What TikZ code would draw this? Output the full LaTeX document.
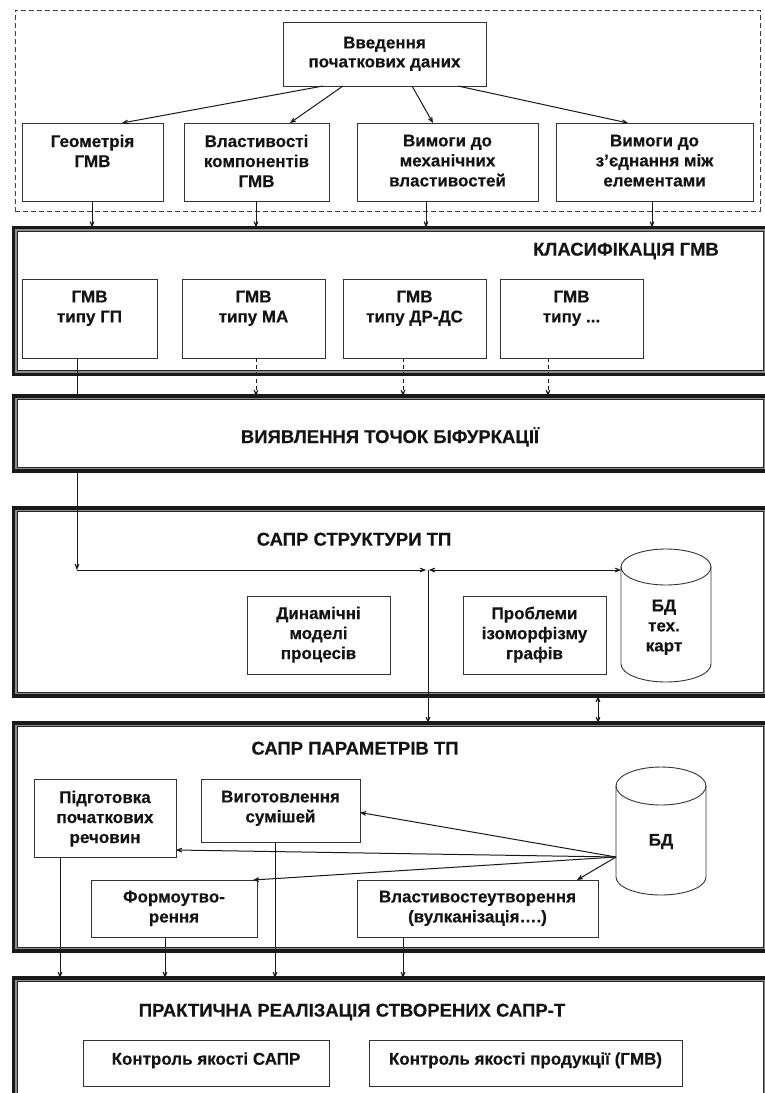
\documentclass[tikz,border=0pt]{standalone}
\usepackage{fontspec}
\setmainfont{Liberation Sans}[BoldFeatures={FakeBold=0.3}]
\usetikzlibrary{arrows.meta}
\newcommand\myframeinner[1]{%
  \draw[frmg] ([shift={(2.5pt,-2.5pt)}]#1.north west) rectangle ([shift={(-2.5pt,2.5pt)}]#1.south east);
  \draw[frmi] ([shift={(3.9pt,-3.9pt)}]#1.north west) rectangle ([shift={(-3.9pt,3.9pt)}]#1.south east);}
\begin{document}
\begin{tikzpicture}[x=1pt,y=-1pt,
  box/.style={draw=black!80, line width=0.9pt, inner sep=0pt, outer sep=0pt, anchor=north west},
  basetxt/.style={align=center, inner sep=0pt, anchor=north, text=black!92, execute at begin node=\strut},
  txt/.style={basetxt, font=\fontsize{17}{20}\selectfont\bfseries, yshift=-2.5pt},
  ttl/.style={basetxt, font=\fontsize{18.5}{22}\selectfont\bfseries},
  frm/.style={draw=black!90, line width=3.5pt, inner sep=0pt, outer sep=0pt, anchor=north west},
  frmg/.style={draw=black!45, line width=1.3pt},
  frmi/.style={draw=black!85, line width=0.9pt},
  ln/.style={draw=black!90, line width=1pt},
  tip/.tip={Stealth[length=11pt,width=9pt,inset=7.5pt]},
  arr/.style={ln, -tip},
  darr/.style={arr, dash pattern=on 4pt off 3pt},
  dbl/.style={ln, tip-tip},
  cyl/.style={draw=black!80, line width=0.9pt},
]
\useasboundingbox (0,0) rectangle (765,1093);
\clip (0,0) rectangle (765,1093);
\fill[white] (0,0) rectangle (765,1093);

% ---------- input block ----------
\node[draw=black!75, line width=0.8pt, dash pattern=on 5pt off 3pt, inner sep=0pt, outer sep=0pt, anchor=north west,
      minimum width=745pt, minimum height=201pt] (inp) at (15,10) {};
\node[box, minimum width=203pt, minimum height=64pt] (top) at (283,22) {};
\node[txt, font=\fontsize{17}{19}\selectfont\bfseries] at (384.5,34) {Введення\\початкових даних};

\node[box, minimum width=141pt, minimum height=78pt] (g1) at (22,123) {};
\node[txt] at (92.5,132) {Геометрія\\ГМВ};
\node[box, minimum width=145pt, minimum height=78pt] (g2) at (184,123) {};
\node[txt] at (256.5,132) {Властивості\\компонентів\\ГМВ};
\node[box, minimum width=181pt, minimum height=78pt] (g3) at (357,123) {};
\node[txt] at (447.5,132) {Вимоги до\\механічних\\властивостей};
\node[box, minimum width=197pt, minimum height=78pt] (g4) at (556,123) {};
\node[txt] at (654.5,132) {Вимоги до\\з’єднання між\\елементами};

% ---------- frames ----------
\node[frm, minimum width=754pt, minimum height=147pt] (cls) at (13.5,227.5) {};
\myframeinner{cls}
\node[frm, minimum width=754pt, minimum height=75pt] (bif) at (13.5,396) {};
\myframeinner{bif}
\node[frm, minimum width=754pt, minimum height=188pt] (sst) at (13.5,508) {};
\myframeinner{sst}
\node[frm, minimum width=754pt, minimum height=228pt] (spar) at (13.5,723) {};
\myframeinner{spar}
\node[frm, minimum width=754pt, minimum height=142pt] (prac) at (13.5,978) {};
\myframeinner{prac}

% ---------- classification ----------
\node[ttl] at (626,240) {КЛАСИФІКАЦІЯ ГМВ};
\node[box, minimum width=135pt, minimum height=79pt] (c1) at (22,279) {};
\node[txt] at (89.5,288) {ГМВ\\типу ГП};
\node[box, minimum width=143pt, minimum height=79pt] (c2) at (182,279) {};
\node[txt] at (253.5,288) {ГМВ\\типу МА};
\node[box, minimum width=143pt, minimum height=79pt] (c3) at (343,279) {};
\node[txt] at (414.5,288) {ГМВ\\типу ДР-ДС};
\node[box, minimum width=143pt, minimum height=79pt] (c4) at (500,279) {};
\node[txt] at (571.5,288) {ГМВ\\типу ...};

% ---------- bifurcation ----------
\node[ttl] at (390,427) {ВИЯВЛЕННЯ ТОЧОК БІФУРКАЦІЇ};

% ---------- SAPR structure ----------
\node[ttl] at (354,530) {САПР СТРУКТУРИ ТП};
\node[box, minimum width=143pt, minimum height=78pt] (d1) at (247,596) {};
\node[txt] at (318.5,604) {Динамічні\\моделі\\процесів};
\node[box, minimum width=143pt, minimum height=78pt] (d2) at (463,596) {};
\node[txt] at (534.5,604) {Проблеми\\ізоморфізму\\графів};
\draw[cyl] (666,567) ellipse [x radius=45, y radius=18];
\draw[cyl] (621,567) -- (621,664) arc[start angle=180, end angle=0, x radius=45, y radius=18] -- (711,567);
\node[inner sep=0pt, outer sep=0pt, anchor=north west, minimum width=90pt, minimum height=133pt] (db1) at (621,549) {};
\node[txt] at (664,597) {БД\\тех.\\карт};

% ---------- SAPR parameters ----------
\node[ttl] at (355,739) {САПР ПАРАМЕТРІВ ТП};
\node[box, minimum width=142pt, minimum height=78pt] (p1) at (34,779) {};
\node[txt] at (105,788) {Підготовка\\початкових\\речовин};
\node[box, minimum width=159pt, minimum height=63pt] (p2) at (201,779) {};
\node[txt] at (280.5,788) {Виготовлення\\сумішей};
\node[box, minimum width=166pt, minimum height=57pt] (p3) at (91,880) {};
\node[txt] at (174,888) {Формоутво-\\рення};
\node[box, minimum width=241pt, minimum height=57pt] (p4) at (357,880) {};
\node[txt] at (477.5,888) {Властивостеутворення\\(вулканізація….)};
\draw[cyl] (661,786) ellipse [x radius=45, y radius=19];
\draw[cyl] (616,786) -- (616,877) arc[start angle=180, end angle=0, x radius=45, y radius=18] -- (706,786);
\node[inner sep=0pt, outer sep=0pt, anchor=north west, minimum width=90pt, minimum height=128pt] (db2) at (616,767) {};
\node[txt] at (661,829) {БД};

% ---------- practical ----------
\node[ttl] at (352,1001) {ПРАКТИЧНА РЕАЛІЗАЦІЯ СТВОРЕНИХ САПР-Т};
\node[box, minimum width=246pt, minimum height=46pt] (q1) at (83,1040) {};
\node[txt] at (206,1048) {Контроль якості САПР};
\node[box, minimum width=313pt, minimum height=46pt] (q2) at (369,1040) {};
\node[txt] at (525.5,1048) {Контроль якості продукції (ГМВ)};

% ---------- connectors ----------
\draw[arr] ([xshift=40pt]top.south west) -- ([xshift=100pt]g1.north west);
\draw[arr] ([xshift=60pt]top.south west) -- ([xshift=106pt]g2.north west);
\draw[arr] ([xshift=129pt]top.south west) -- ([xshift=76pt]g3.north west);
\draw[arr] ([xshift=175pt]top.south west) -- ([xshift=72pt]g4.north west);

\path ([xshift=70pt]g1.south west) coordinate (g1o)
      ([xshift=72pt]g2.south west) coordinate (g2o)
      ([xshift=69pt]g3.south west) coordinate (g3o)
      ([xshift=96pt]g4.south west) coordinate (g4o);
\draw[arr] (g1o) -- (g1o |- cls.north);
\draw[arr] (g2o) -- (g2o |- cls.north);
\draw[arr] (g3o) -- (g3o |- cls.north);
\draw[arr] (g4o) -- (g4o |- cls.north);

\coordinate (K) at (77,570);
\coordinate (J) at (428,570);
\draw[ln] (c1.south -| K) -- (bif.north -| K);
\draw[arr] (bif.south -| K) -- (K);
\draw[arr] (K) -- ([xshift=-2pt]J);
\draw[dbl] ([xshift=1pt]J) -- (J -| db1.west);
\draw[arr] (J) -- (J |- spar.north);

\path ([xshift=74pt]c2.south west) coordinate (c2o)
      ([xshift=60pt]c3.south west) coordinate (c3o)
      ([xshift=48pt]c4.south west) coordinate (c4o);
\draw[darr] (c2o) -- (c2o |- bif.north);
\draw[darr] (c3o) -- (c3o |- bif.north);
\draw[darr] (c4o) -- (c4o |- bif.north);

\coordinate (T) at (598,0);
\draw[dbl] (sst.south -| T) -- (spar.north -| T);

\coordinate (S) at (616,857);
\draw[arr] (S) -- ([yshift=-2pt]p2.east);
\draw[arr] (S) -- ([yshift=7pt]p1.south east);
\draw[arr] (S) -- ([xshift=-4pt]p3.north east);
\draw[arr] (S) -- ([xshift=-21pt]p4.north east);

\path ([xshift=26pt]p1.south west) coordinate (p1o)
      ([xshift=74pt]p3.south west) coordinate (p3o)
      ([xshift=74pt]p2.south west) coordinate (p2o)
      ([xshift=46pt]p4.south west) coordinate (p4o);
\draw[arr] (p1o) -- (p1o |- prac.north);
\draw[arr] (p3o) -- (p3o |- prac.north);
\draw[arr] (p2o) -- (p2o |- prac.north);
\draw[arr] (p4o) -- (p4o |- prac.north);
\end{tikzpicture}
\end{document}
